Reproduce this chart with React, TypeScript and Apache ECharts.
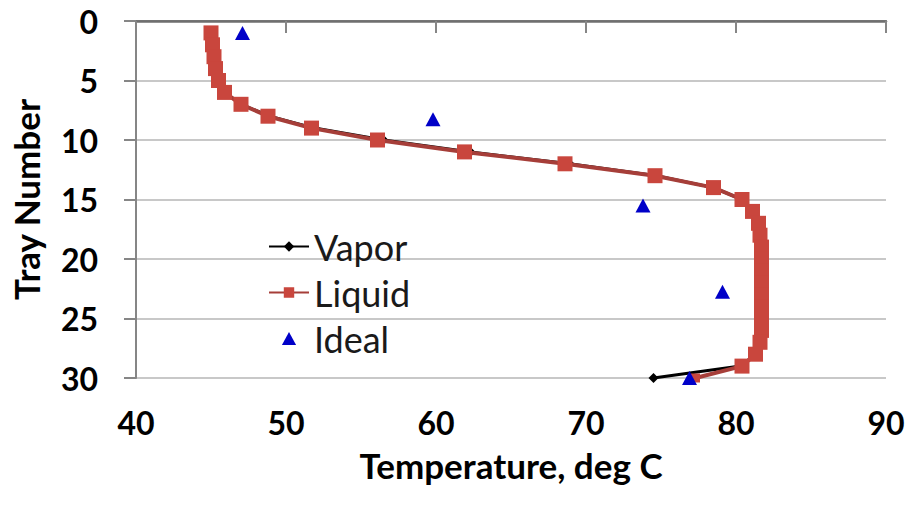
import { useEffect, useRef } from 'react';
import * as echarts from 'echarts';

const trays = [1, 2, 3, 4, 5, 6, 7, 8, 9, 10, 11, 12, 13, 14, 15, 16, 17, 18, 19, 20, 21, 22, 23, 24, 25, 26, 27, 28, 29, 30];
const liquidTemps = [45.0, 45.1, 45.2, 45.3, 45.5, 45.9, 47.0, 48.8, 51.7, 56.1, 61.9, 68.6, 74.6, 78.5, 80.4, 81.1, 81.5, 81.6, 81.7, 81.7, 81.7, 81.7, 81.7, 81.7, 81.7, 81.7, 81.6, 81.3, 80.4, 77.3];
const vaporTemps = [45.0, 45.1, 45.2, 45.3, 45.5, 45.9, 47.0, 48.9, 51.9, 56.5, 62.3, 68.9, 74.7, 78.5, 80.4, 81.1, 81.5, 81.6, 81.7, 81.7, 81.7, 81.7, 81.7, 81.7, 81.7, 81.7, 81.6, 81.3, 80.3, 74.5];
const idealTrays = [1, 8.25, 15.5, 22.75, 30];
const idealTemps = [47.1, 59.8, 73.8, 79.1, 76.9];
const xTicks = [40, 50, 60, 70, 80, 90];
const yTicks = [0, 5, 10, 15, 20, 25, 30];

const FONT = 'Lato';

export default function App() {
  const ref = useRef<HTMLDivElement>(null);
  useEffect(() => {
    document.body.style.margin = '0';
    const chart = echarts.init(ref.current!, null, { renderer: 'svg' });
    const vapor = trays.map((t, i) => [vaporTemps[i], t]);
    const liquid = trays.map((t, i) =>
      i === trays.length - 1
        ? { value: [liquidTemps[i], t], symbolSize: 9 }
        : [liquidTemps[i], t]
    );
    const ideal = idealTrays.map((t, i) => [idealTemps[i], t]);
    chart.setOption({
      animation: false,
      backgroundColor: '#ffffff',
      textStyle: { fontFamily: FONT },
      grid: { left: 136, right: 24, top: 21, bottom: 129, containLabel: false },
      legend: {
        orient: 'vertical',
        left: 263,
        top: 223,
        itemWidth: 40,
        itemHeight: 13,
        itemGap: 9,
        symbolKeepAspect: true,
        textStyle: { fontFamily: FONT, fontSize: 36, color: '#1a1a1a', lineHeight: 37 },
        data: [
          { name: 'Vapor' },
          { name: 'Liquid' },
          { name: 'Ideal', icon: 'path://M6,0 L12,11 L0,11 Z' },
        ],
      },
      xAxis: [
        {
          type: 'value',
          min: xTicks[0],
          max: xTicks[xTicks.length - 1],
          interval: 10,
          position: 'bottom',
          name: 'Temperature, deg C',
          nameLocation: 'middle',
          nameGap: 69,
          nameTextStyle: { fontFamily: FONT, fontSize: 35, fontWeight: 'bold', color: '#000' },
          axisLine: { show: true, lineStyle: { color: '#868686', width: 2 } },
          axisTick: { show: true, inside: false, length: 12, lineStyle: { color: '#868686', width: 2 } },
          axisLabel: { margin: 28, fontFamily: FONT, fontSize: 32, fontWeight: 'bold', color: '#000' },
          splitLine: { show: false },
        },
        {
          type: 'value',
          min: xTicks[0],
          max: xTicks[xTicks.length - 1],
          position: 'top',
          axisLine: { show: true, lineStyle: { color: '#6f6f6f', width: 2.5 } },
          axisTick: { show: false },
          axisLabel: { show: false },
          splitLine: { show: false },
        },
      ],
      yAxis: {
        type: 'value',
        inverse: true,
        min: yTicks[0],
        max: yTicks[yTicks.length - 1],
        interval: 5,
        name: 'Tray Number',
        nameLocation: 'middle',
        nameGap: 93,
        nameRotate: 90,
        nameTextStyle: { fontFamily: FONT, fontSize: 35, fontWeight: 'bold', color: '#000' },
        axisLine: { show: true, lineStyle: { color: '#868686', width: 2 } },
        axisTick: { show: true, inside: false, length: 12, lineStyle: { color: '#868686', width: 2 } },
        axisLabel: { margin: 38, fontFamily: FONT, fontSize: 32, fontWeight: 'bold', color: '#000' },
        splitLine: { show: true, lineStyle: { color: '#c8c8c8', width: 2 } },
      },
      series: [
        {
          name: 'Vapor',
          type: 'line',
          data: vapor,
          color: '#000000',
          lineStyle: { color: '#000000', width: 3 },
          itemStyle: { color: '#000000' },
          symbol: 'diamond',
          symbolSize: 10,
          z: 2,
        },
        {
          name: 'Liquid',
          type: 'line',
          data: liquid,
          color: '#c9463d',
          lineStyle: { color: '#a63e39', width: 4 },
          itemStyle: { color: '#c9463d' },
          symbol: 'rect',
          symbolSize: 15,
          z: 3,
        },
        {
          name: 'Ideal',
          type: 'scatter',
          data: ideal,
          color: '#0000c8',
          itemStyle: { color: '#0000c8', opacity: 1 },
          symbol: 'triangle',
          symbolSize: [15, 14],
          z: 4,
        },
      ],
    });
    return () => chart.dispose();
  }, []);
  return <div ref={ref} style={{ width: 910, height: 507 }} />;
}
